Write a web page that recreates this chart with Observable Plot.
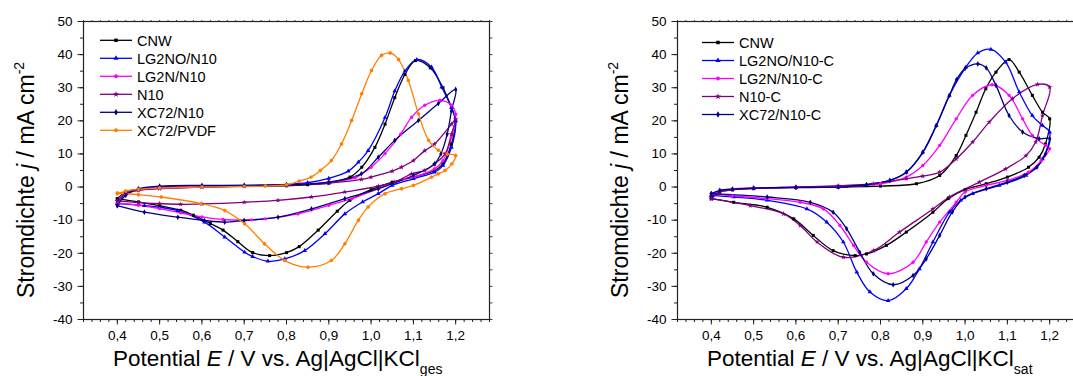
<!DOCTYPE html>
<html><head><meta charset="utf-8">
<script src="https://cdn.jsdelivr.net/npm/d3@7"></script>
<script src="https://cdn.jsdelivr.net/npm/@observablehq/plot@0.6"></script>
<style>
body{margin:0;background:#fff;}
#page{position:relative;width:1073px;height:376px;overflow:hidden;background:#fff;}
.panel{position:absolute;top:0;width:540px;height:376px;}
.panel svg{max-width:none !important;width:540px;height:376px;}
</style></head>
<body><div id="page"><div class="panel" id="left" style="left:0px"></div><div class="panel" id="right" style="left:594px"></div></div>
<script>
// ---------- axis tick labels ----------
const xTickValues = [0.4, 0.5, 0.6, 0.7, 0.8, 0.9, 1.0, 1.1, 1.2];
const xTickLabels = ["0,4", "0,5", "0,6", "0,7", "0,8", "0,9", "1,0", "1,1", "1,2"];
const yTickValues = [-40, -30, -20, -10, 0, 10, 20, 30, 40, 50];
const yTickLabels = ["-40", "-30", "-20", "-10", "0", "10", "20", "30", "40", "50"];
const xDomain = [0.32, 1.28];
const yDomain = [-40, 50];

// ---------- left panel (KCl ges) : [E, j] ----------
const L_CNW_fwd = [[0.4,-3.5],[0.42,-1.5],[0.45,-0.7],[0.5,-0.3],[0.6,0],[0.7,0.2],[0.8,0.4],[0.85,0.7],[0.9,1.2],[0.95,3],[0.978,6],[1.009,12],[1.033,19],[1.056,27],[1.08,34],[1.105,38.2],[1.14,36],[1.17,30],[1.19,24],[1.2,20]];
const L_CNW_rev = [[1.19,13],[1.17,7],[1.15,5],[1.1,3],[1.05,1.5],[1.0,-0.8],[0.95,-4],[0.92,-7.3],[0.875,-13],[0.83,-18],[0.8,-19.8],[0.76,-20.7],[0.72,-19.8],[0.685,-16.5],[0.65,-13],[0.62,-11],[0.58,-8.5],[0.55,-7],[0.5,-5.6],[0.45,-4.5],[0.4,-3.5]];
const L_LG2NO_fwd = [[0.4,-5],[0.42,-2],[0.45,-0.6],[0.5,0],[0.6,0.3],[0.7,0.5],[0.8,0.8],[0.85,1.3],[0.9,2.6],[0.946,4.8],[0.97,7.5],[0.993,11],[1.033,21],[1.056,29],[1.08,35],[1.108,38.5],[1.143,36.2],[1.167,30.2],[1.19,24],[1.2,20]];
const L_LG2NO_rev = [[1.19,12],[1.17,6.5],[1.15,4.5],[1.1,2.5],[1.05,0.5],[1.017,-2],[0.98,-4.5],[0.938,-8.1],[0.891,-14.1],[0.843,-19.2],[0.796,-21.7],[0.756,-22.4],[0.72,-21],[0.701,-19.7],[0.654,-15.1],[0.606,-10.6],[0.543,-7.1],[0.464,-5.6],[0.4,-5]];
const L_LG2N_fwd = [[0.4,-4.8],[0.42,-2],[0.45,-0.7],[0.5,-0.2],[0.6,0.1],[0.7,0.3],[0.8,0.6],[0.9,1.5],[0.962,2.8],[1.0,6],[1.033,10.1],[1.07,16],[1.096,21.1],[1.127,24.7],[1.163,26.2],[1.19,24.7],[1.2,22]];
const L_LG2N_rev = [[1.19,15],[1.17,8],[1.15,5.5],[1.1,3],[1.08,2.5],[1.017,-0.5],[0.954,-3.5],[0.9,-5.5],[0.827,-8.1],[0.75,-9.6],[0.717,-9.9],[0.65,-9.8],[0.6,-9],[0.55,-7.8],[0.5,-6.5],[0.45,-5.5],[0.4,-4.8]];
const L_N10_fwd = [[0.4,-4.2],[0.42,-2],[0.45,-1],[0.5,-0.5],[0.6,0],[0.7,0.3],[0.8,0.6],[0.9,1.2],[0.977,2.3],[1.0,3],[1.05,4.8],[1.072,6],[1.1,8],[1.127,11],[1.15,13],[1.19,19],[1.2,20.5]];
const L_N10_rev = [[1.19,16],[1.175,10],[1.15,7],[1.127,5],[1.096,4],[1.056,1.5],[1.017,0.3],[0.938,-1.5],[0.859,-3],[0.78,-4],[0.7,-4.6],[0.6,-5.1],[0.55,-5.2],[0.5,-5],[0.45,-4.7],[0.4,-4.2]];
const L_XC72_fwd = [[0.4,-5.6],[0.42,-2.5],[0.45,-0.5],[0.5,0.3],[0.6,0.5],[0.7,0.5],[0.8,0.7],[0.9,1.5],[0.977,4],[1.017,9],[1.056,14.1],[1.112,20.1],[1.159,25.2],[1.2,29.5]];
const L_XC72_rev = [[1.19,23],[1.18,16],[1.165,10],[1.15,7],[1.1,3.5],[1.017,-0.5],[0.938,-3.5],[0.859,-6.6],[0.78,-9.1],[0.7,-10.1],[0.654,-10.6],[0.606,-10.1],[0.543,-9.1],[0.464,-7.6],[0.4,-5.6]];
const L_PVDF_fwd = [[0.4,-2],[0.42,-1.2],[0.45,-0.7],[0.5,-0.3],[0.6,0],[0.7,0.2],[0.75,0.3],[0.8,0.7],[0.83,1.8],[0.858,3],[0.88,5],[0.906,8],[0.93,13],[0.954,20.1],[0.978,28.2],[1.001,35.2],[1.025,39.8],[1.045,40.5],[1.065,38.5],[1.088,32.2],[1.112,22.1],[1.136,14.1],[1.159,11.1],[1.18,10],[1.2,9.5]];
const L_PVDF_rev = [[1.191,7],[1.175,5],[1.159,4],[1.143,3],[1.1,0.5],[1.072,-0.5],[1.033,-2],[0.993,-6],[0.97,-10],[0.938,-17.1],[0.906,-22.2],[0.851,-24.2],[0.796,-22.2],[0.748,-17.1],[0.701,-11.1],[0.654,-7.1],[0.598,-5],[0.504,-3],[0.45,-2.3],[0.4,-1.8]];

// ---------- right panel (KCl sat) ----------
const R_CNW_fwd = [[0.4,-3.5],[0.42,-1.5],[0.45,-0.8],[0.5,-0.4],[0.6,-0.2],[0.7,0],[0.8,0.3],[0.885,1.0],[0.94,3.5],[0.979,9.5],[1.002,15.6],[1.026,22.6],[1.049,29.7],[1.073,34.7],[1.104,38.5],[1.128,34.7],[1.159,27.7],[1.183,22.6],[1.2,20.6]];
const R_CNW_rev = [[1.19,13],[1.175,9],[1.15,6],[1.1,3],[1.05,1],[1.0,-0.8],[0.96,-3.5],[0.924,-7.6],[0.861,-13.6],[0.814,-17.6],[0.767,-20.2],[0.74,-20.7],[0.688,-19.2],[0.641,-14.6],[0.595,-9.6],[0.532,-6.1],[0.453,-4.6],[0.4,-3.5]];
const R_LG2NO_fwd = [[0.4,-2.5],[0.42,-1.2],[0.45,-0.7],[0.5,-0.4],[0.6,-0.1],[0.7,0],[0.767,0.7],[0.822,2],[0.861,4.5],[0.9,10.5],[0.932,18.6],[0.963,27.7],[1.002,36.2],[1.03,40.5],[1.061,41.6],[1.096,37.7],[1.128,28.7],[1.159,21.6],[1.183,18.6],[1.2,16.6]];
const R_LG2NO_rev = [[1.183,8.5],[1.144,3.5],[1.081,0.5],[1.018,-2],[0.99,-4],[0.963,-7.6],[0.924,-16.6],[0.892,-24.7],[0.861,-30.7],[0.818,-34.3],[0.775,-31.7],[0.744,-25.7],[0.712,-16.6],[0.673,-10.6],[0.626,-6.6],[0.532,-4.0],[0.453,-3.0],[0.4,-2.5]];
const R_LG2N_fwd = [[0.4,-2],[0.45,-0.6],[0.5,-0.3],[0.6,0],[0.7,0.1],[0.8,1],[0.861,3.0],[0.9,6.5],[0.94,12.6],[0.979,20.6],[1.018,27.7],[1.064,30.9],[1.104,27.7],[1.136,20.6],[1.159,15.6],[1.19,12.6],[1.2,11.6]];
const R_LG2N_rev = [[1.18,8],[1.15,4.5],[1.1,2],[1.05,0.5],[1.0,-1.5],[0.979,-4.6],[0.94,-10.6],[0.908,-16.6],[0.877,-22.7],[0.818,-26.2],[0.767,-22.7],[0.736,-17.6],[0.704,-11.6],[0.665,-6.6],[0.61,-4.6],[0.532,-3.5],[0.45,-2.7],[0.4,-2]];
const R_N10_fwd = [[0.4,-3.5],[0.42,-1.5],[0.45,-0.8],[0.5,-0.4],[0.6,0],[0.7,0.4],[0.783,1],[0.861,2.5],[0.9,3.3],[0.94,4.5],[0.979,8.5],[1.018,13.6],[1.057,19.6],[1.112,26.7],[1.171,31],[1.2,30.2]];
const R_N10_rev = [[1.183,21.6],[1.167,13.6],[1.144,9.5],[1.096,5.5],[1.034,1.5],[0.963,-3],[0.924,-6.6],[0.845,-13.6],[0.783,-19.2],[0.712,-21.2],[0.65,-16.6],[0.61,-11.6],[0.571,-8.1],[0.492,-5.6],[0.4,-3.5]];
const R_XC72_fwd = [[0.4,-2],[0.42,-1],[0.45,-0.6],[0.5,-0.3],[0.6,-0.1],[0.7,0],[0.767,0.7],[0.822,2],[0.861,4.5],[0.9,10.5],[0.932,18.6],[0.963,27.7],[0.98,32.5],[1.0,35.8],[1.03,37.2],[1.05,36],[1.073,30.7],[1.104,21.6],[1.136,16.6],[1.175,14.6],[1.2,14.6]];
const R_XC72_rev = [[1.19,10],[1.17,6],[1.14,3.5],[1.1,1.5],[1.05,-0.5],[1.0,-3],[0.97,-7.5],[0.94,-14.6],[0.908,-21.7],[0.877,-26.7],[0.83,-29.5],[0.783,-26.2],[0.751,-19.7],[0.72,-12.6],[0.688,-7.6],[0.634,-4.6],[0.532,-3.0],[0.4,-2.0]];

// ---------- series definitions ----------
const leftNames  = ["CNW", "LG2NO/N10", "LG2N/N10", "N10", "XC72/N10", "XC72/PVDF"];
const leftColors = ["#000000", "#0000ff", "#ff00ff", "#800080", "#000080", "#ff8000"];
const leftSymbols = ["square", "triangle", "circle", "star", "diamond", "hexagon"];
const leftCurves = [[L_CNW_fwd, L_CNW_rev], [L_LG2NO_fwd, L_LG2NO_rev], [L_LG2N_fwd, L_LG2N_rev], [L_N10_fwd, L_N10_rev], [L_XC72_fwd, L_XC72_rev], [L_PVDF_fwd, L_PVDF_rev]];

const rightNames  = ["CNW", "LG2NO/N10-C", "LG2N/N10-C", "N10-C", "XC72/N10-C"];
const rightColors = ["#000000", "#0000ff", "#ff00ff", "#800080", "#000080"];
const rightSymbols = ["square", "triangle", "circle", "star", "diamond"];
const rightCurves = [[R_CNW_fwd, R_CNW_rev], [R_LG2NO_fwd, R_LG2NO_rev], [R_LG2N_fwd, R_LG2N_rev], [R_N10_fwd, R_N10_rev], [R_XC72_fwd, R_XC72_rev]];

const FONT = "'Liberation Sans', Arial, Helvetica, sans-serif";
const xMinor = d3.range(16, 65).map(i => +(i * 0.02).toFixed(2));
const yMinor = d3.range(-40, 51, 5);

function makePanel(names, colors, symbols, curves, subscript, legendOpt) {
  const data = [];
  names.forEach((n, k) => {
    const [f, r] = curves[k];
    f.concat(r).forEach((p, i) => data.push({name: n, E: p[0], j: p[1], i}));
  });
  const W = 540, H = 376, mt = 21, mb = 57, ml = 83, mr = 51;
  const svg = Plot.plot({
    width: W, height: H, marginTop: mt, marginBottom: mb, marginLeft: ml, marginRight: mr,
    style: {fontFamily: FONT, fontSize: "13.5px", color: "#000", background: "#fff", maxWidth: "none"},
    x: {domain: xDomain},
    y: {domain: yDomain},
    color: {domain: names, range: colors},
    symbol: {domain: names, range: symbols},
    marks: [
      Plot.axisX(xMinor, {anchor: "bottom", tickSize: 3, tickFormat: () => "", label: null, stroke: "#222"}),
      Plot.axisX(xTickValues, {anchor: "bottom", tickSize: 5.5, tickPadding: 5, tickFormat: d => xTickLabels[xTickValues.indexOf(d)], label: null, stroke: "#222"}),
      Plot.axisX(xMinor, {anchor: "top", tickSize: 2, tickFormat: () => "", label: null, stroke: "#444"}),
      Plot.axisY(yMinor, {anchor: "left", tickSize: 3, tickFormat: () => "", label: null, stroke: "#222"}),
      Plot.axisY(yTickValues, {anchor: "left", tickSize: 5.5, tickPadding: 5.5, tickFormat: d => yTickLabels[yTickValues.indexOf(d)], label: null, stroke: "#222"}),
      Plot.axisY(yMinor, {anchor: "right", tickSize: 2.5, tickFormat: () => "", label: null, stroke: "#444"}),
      Plot.line(data, {x: "E", y: "j", z: "name", stroke: "name", strokeWidth: 1.3, curve: "catmull-rom"}),
      Plot.dot(data, {x: "E", y: "j", fill: "name", symbol: "name", r: 1.7, stroke: "none"}),
      Plot.frame({stroke: "#222", strokeWidth: 1.2})
    ]
  });
  const s = d3.select(svg);
  // legend
  const g = s.append("g").attr("font-family", FONT).attr("font-size", legendOpt.fs + "px").attr("text-anchor", "start");
  names.forEach((n, k) => {
    const y = legendOpt.y0 + k * legendOpt.dy;
    g.append("line").attr("x1", legendOpt.x0).attr("x2", legendOpt.x1).attr("y1", y).attr("y2", y)
      .attr("stroke", colors[k]).attr("stroke-width", 1.3);
    const sym = d3.symbol().type({square: d3.symbolSquare, triangle: d3.symbolTriangle, circle: d3.symbolCircle, star: d3.symbolStar, diamond: d3.symbolDiamond, hexagon: d3.symbolCircle}[symbols[k]]).size(12);
    g.append("path").attr("d", sym()).attr("transform", `translate(${(legendOpt.x0 + legendOpt.x1) / 2},${y})`).attr("fill", colors[k]);
    g.append("text").attr("x", legendOpt.tx).attr("y", y).attr("dy", "0.36em").attr("fill", "#000").attr("text-anchor", "start").text(n);
  });
  // y label
  const yl = s.append("text").attr("font-family", FONT).attr("font-size", "23px").attr("fill", "#000")
    .attr("transform", "translate(34,298) rotate(-90)").attr("text-anchor", "start");
  yl.append("tspan").text("Stromdichte ");
  yl.append("tspan").attr("font-style", "italic").text("j");
  yl.append("tspan").text(" / mA cm");
  yl.append("tspan").attr("font-size", "14px").attr("dy", "-10").text("-2");
  // x label
  const xl = s.append("text").attr("font-family", FONT).attr("font-size", "22.5px").attr("fill", "#000")
    .attr("x", 113).attr("y", 365.5).attr("text-anchor", "start");
  xl.append("tspan").text("Potential ");
  xl.append("tspan").attr("font-style", "italic").text("E");
  xl.append("tspan").text(" / V vs. Ag|AgCl|KCl");
  xl.append("tspan").attr("font-size", "14px").attr("dy", "8").text(subscript);
  return svg;
}

document.getElementById("left").appendChild(
  makePanel(leftNames, leftColors, leftSymbols, leftCurves, "ges", {x0: 100, x1: 132, tx: 137, y0: 40.3, dy: 18, fs: 14.5}));
document.getElementById("right").appendChild(
  makePanel(rightNames, rightColors, rightSymbols, rightCurves, "sat", {x0: 108, x1: 140, tx: 145, y0: 42.5, dy: 18, fs: 14.5}));
</script>
</body></html>
